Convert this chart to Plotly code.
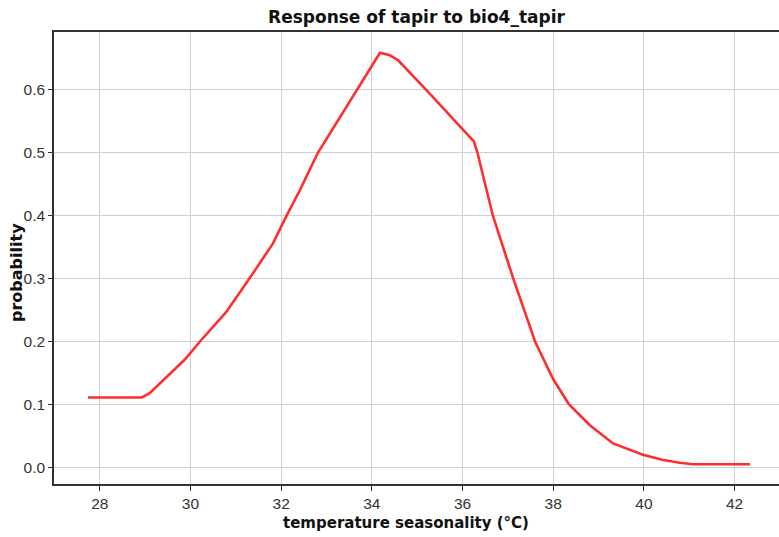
import plotly.graph_objects as go

# Response curve
temperature = [27.74, 28.93, 29.10, 29.40, 29.87, 30.21, 30.79, 31.30, 31.82, 32.12,
               32.41, 32.81, 33.37, 33.66, 34.18, 34.40, 34.58, 35.20, 36.01, 36.25,
               36.33, 36.53, 36.67, 37.12, 37.60, 38.00, 38.35, 38.81, 39.32, 39.98,
               40.40, 40.79, 41.09, 42.34]
probability = [0.111, 0.111, 0.118, 0.139, 0.171, 0.200, 0.247, 0.300, 0.356, 0.400,
               0.440, 0.500, 0.565, 0.600, 0.659, 0.655, 0.647, 0.600, 0.536, 0.518,
               0.500, 0.441, 0.400, 0.300, 0.200, 0.140, 0.100, 0.067, 0.038, 0.020,
               0.012, 0.0073, 0.005, 0.005]

x_ticks = [28, 30, 32, 34, 36, 38, 40, 42]
y_ticks = [0.0, 0.1, 0.2, 0.3, 0.4, 0.5, 0.6]
x_range = [26.99, 42.98]
y_range = [-0.0265, 0.692]

title_text = "Response of tapir to bio4_tapir"
x_title = "temperature seasonality (°C)"
y_title = "probability"

fig = go.Figure()
fig.add_trace(go.Scatter(x=temperature, y=probability, mode="lines",
                         line=dict(color="rgb(255,45,45)", width=2.6),
                         hoverinfo="skip", showlegend=False))

bold_family = "DejaVu Sans, Verdana, sans-serif"
tick_family = "Liberation Sans, Arial, sans-serif"
W, H = 779, 537
L, T, B = 54, 32, 53
plot_w = W - L
plot_h = H - T - B

fig.update_layout(
    width=W, height=H,
    margin=dict(l=L, r=0, t=T, b=B, autoexpand=False),
    paper_bgcolor="white", plot_bgcolor="white",
    font=dict(family=tick_family, size=15.5, color="#333333"),
    title=dict(text="<b>" + title_text + "</b>", x=416.5 / W, xanchor="center",
               y=1 - 17 / H, yanchor="middle",
               font=dict(family=bold_family, size=17, color="#111111")),
    xaxis=dict(range=x_range, tickvals=x_ticks, ticktext=[str(v) for v in x_ticks],
               showgrid=True, gridcolor="#cfcfcf", gridwidth=1,
               showline=True, linecolor="#333333", linewidth=1.5, mirror=True,
               ticks="outside", ticklen=5, tickcolor="#333333",
               zeroline=False, automargin=False),
    xaxis2=dict(range=x_range, overlaying="x", side="top", matches="x",
                tickvals=x_ticks, showticklabels=False, showgrid=False,
                showline=False, zeroline=False, automargin=False,
                ticks="inside", ticklen=5, tickcolor="#333333"),
    yaxis=dict(range=y_range, tickvals=y_ticks, tickformat=".1f",
               showgrid=True, gridcolor="#cfcfcf", gridwidth=1,
               showline=True, linecolor="#333333", linewidth=1.5, mirror=False,
               ticks="outside", ticklen=4, tickcolor="#333333",
               zeroline=False, automargin=False),
    annotations=[
        dict(text="<b>" + x_title + "</b>", xref="paper", yref="paper",
             x=(406 - L) / plot_w, y=-39 / plot_h, xanchor="center", yanchor="middle",
             showarrow=False, font=dict(family=bold_family, size=15, color="#111111")),
        dict(text="<b>" + y_title + "</b>", xref="paper", yref="paper",
             x=-(L - 16) / plot_w, y=(484 - 273) / plot_h, xanchor="center",
             yanchor="middle", textangle=-90,
             showarrow=False, font=dict(family=bold_family, size=16, color="#111111")),
    ],
)

fig.write_html("out.html",
               config={"displayModeBar": False},
               post_script="document.body.style.margin='0';"
                           "document.body.style.overflow='hidden';")
